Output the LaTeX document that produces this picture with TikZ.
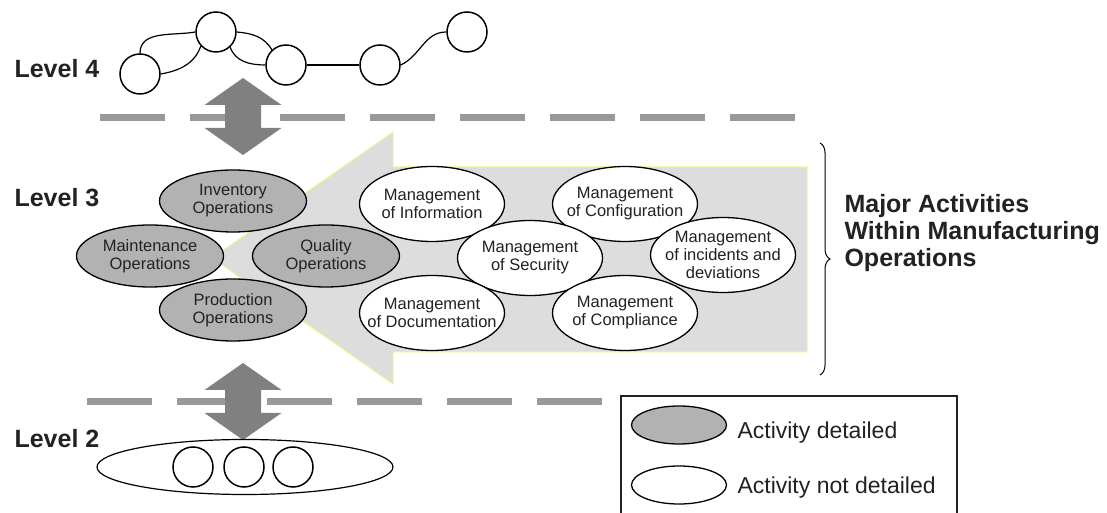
\documentclass[tikz,border=0pt]{standalone}
\usepackage{fontspec}
\setmainfont{Liberation Sans}
\usetikzlibrary{shapes.geometric, decorations.pathreplacing}

\definecolor{opgray}{RGB}{178,178,178}
\definecolor{arrowgray}{RGB}{128,128,128}
\definecolor{dashgray}{RGB}{153,153,153}
\definecolor{panelgray}{RGB}{221,221,221}
\definecolor{paleyellow}{RGB}{245,245,140}
\definecolor{textgray}{RGB}{34,34,34}

\newcommand{\ctr}[1]{\makebox[0pt]{#1}}

\tikzset{
	op/.style={ellipse, draw, line width=1.3pt, fill=opgray, minimum width=147pt, minimum height=62pt,
		inner sep=0pt, align=center, text=textgray, font=\fontsize{16.5}{18}\selectfont},
	mgmt/.style={op, fill=white, minimum width=145pt, minimum height=75pt},
	ring/.style={circle, draw, line width=1.5pt, fill=white, minimum size=40pt, inner sep=0pt},
	link/.style={line width=1.2pt},
	border/.style={draw=dashgray, line width=7pt, dash pattern=on 65pt off 25pt},
	levellabel/.style={anchor=west, text=textgray, font=\bfseries\fontsize{25}{27}\selectfont},
	legendtext/.style={anchor=west, text=textgray, font=\fontsize{23}{25}\selectfont}
}

\begin{document}
\begin{tikzpicture}[x=1pt, y=1pt]
	\useasboundingbox (0,0) rectangle (1107,513);

	% level borders
	\draw[border] (100,395) -- (795,395);
	\draw[border] (87,111) -- (602,111);

	% large arrow behind level 3
	\filldraw[fill=panelgray, draw=paleyellow, line width=1pt] (212,255) -- (393,381) -- (393,346) -- (807,346)
		-- (807,161) -- (393,161) -- (393,129) -- cycle;

	% up/down arrows between levels
	\foreach \t in {435,150}
		\fill[arrowgray] (243,\t) -- ++(38.5,-27) -- ++(-20.5,0) -- ++(0,-23) -- ++(20.5,0) -- (243,\t-77)
			-- ++(-38.5,27) -- ++(20.5,0) -- ++(0,23) -- ++(-20.5,0) -- cycle;

	% level 4
	\node[levellabel] (lvfour) at (11,444) {Level 4};
	\node[ring] (n1) at (140,439) {};
	\node[ring] (n2) at (216,481) {};
	\node[ring] (n3) at (286,448) {};
	\node[ring] (n4) at (380,448) {};
	\node[ring] (n5) at (467,481) {};
	\draw[link] (n1.north) to[out=90,in=190] (n2.west);
	\draw[link] (n1.east) to[out=10,in=-110] (n2.-137);
	\draw[link] (n2.east) to[out=-5,in=120] (n3.133);
	\draw[link] (n2.-47) to[out=-70,in=180] (n3.west);
	\draw[link] (n3) -- (n4);
	\draw[link] (n4.east) to[out=25,in=180] (n5.west);

	% level 3
	\node[levellabel] (lvthree) at (11,315) {Level 3};
	\node[op] (inv) at (233,312) {\ctr{Inventory}\\\ctr{Operations}};
	\node[op] (maint) at (150,257) {\ctr{Maintenance}\\\ctr{Operations}};
	\node[op] (qual) at (326,257) {\ctr{Quality}\\\ctr{Operations}};
	\node[op] (prod) at (233,203) {\ctr{Production}\\\ctr{Operations}};
	\node[mgmt] (info) at (432,309) {\ctr{Management}\\\ctr{of Information}};
	\node[mgmt] (conf) at (625,309) {\ctr{Management}\\\ctr{of Configuration}};
	\node[mgmt] (sec) at (530,255) {\ctr{Management}\\\ctr{of Security}};
	\node[mgmt] (inc) at (723,258) {\ctr{Management}\\\ctr{of incidents and}\\\ctr{deviations}};
	\node[mgmt] (doc) at (432,200) {\ctr{Management}\\\ctr{of Documentation}};
	\node[mgmt] (comp) at (625,200) {\ctr{Management}\\\ctr{of Compliance}};

	\draw[line width=1pt, decorate, decoration={brace, amplitude=10pt}] (820,370) -- (820,138);
	\node[levellabel, align=left] (major) at (841,280) {Major Activities\\Within Manufacturing\\Operations};

	% level 2
	\node[levellabel] (lvtwo) at (11,74) {Level 2};
	\node[ellipse, draw, line width=1.2pt, fill=white, minimum width=296pt, minimum height=55pt] (lvtwoset) at (245,46) {};
	\node[ring] (m1) at (193,46) {};
	\node[ring] (m2) at (244,46) {};
	\node[ring] (m3) at (293,46) {};

	% legend
	\draw[draw=textgray, line width=1.3pt] (621,117) rectangle (957,-5);
	\node[op, minimum width=95pt, minimum height=38pt] (keydet) at (679,88) {};
	\node[op, fill=white, minimum width=95pt, minimum height=38pt] (keynot) at (679,28) {};
	\node[legendtext] (keydettext) at (734,80) {Activity detailed};
	\node[legendtext] (keynottext) at (734,25) {Activity not detailed};
\end{tikzpicture}
\end{document}
